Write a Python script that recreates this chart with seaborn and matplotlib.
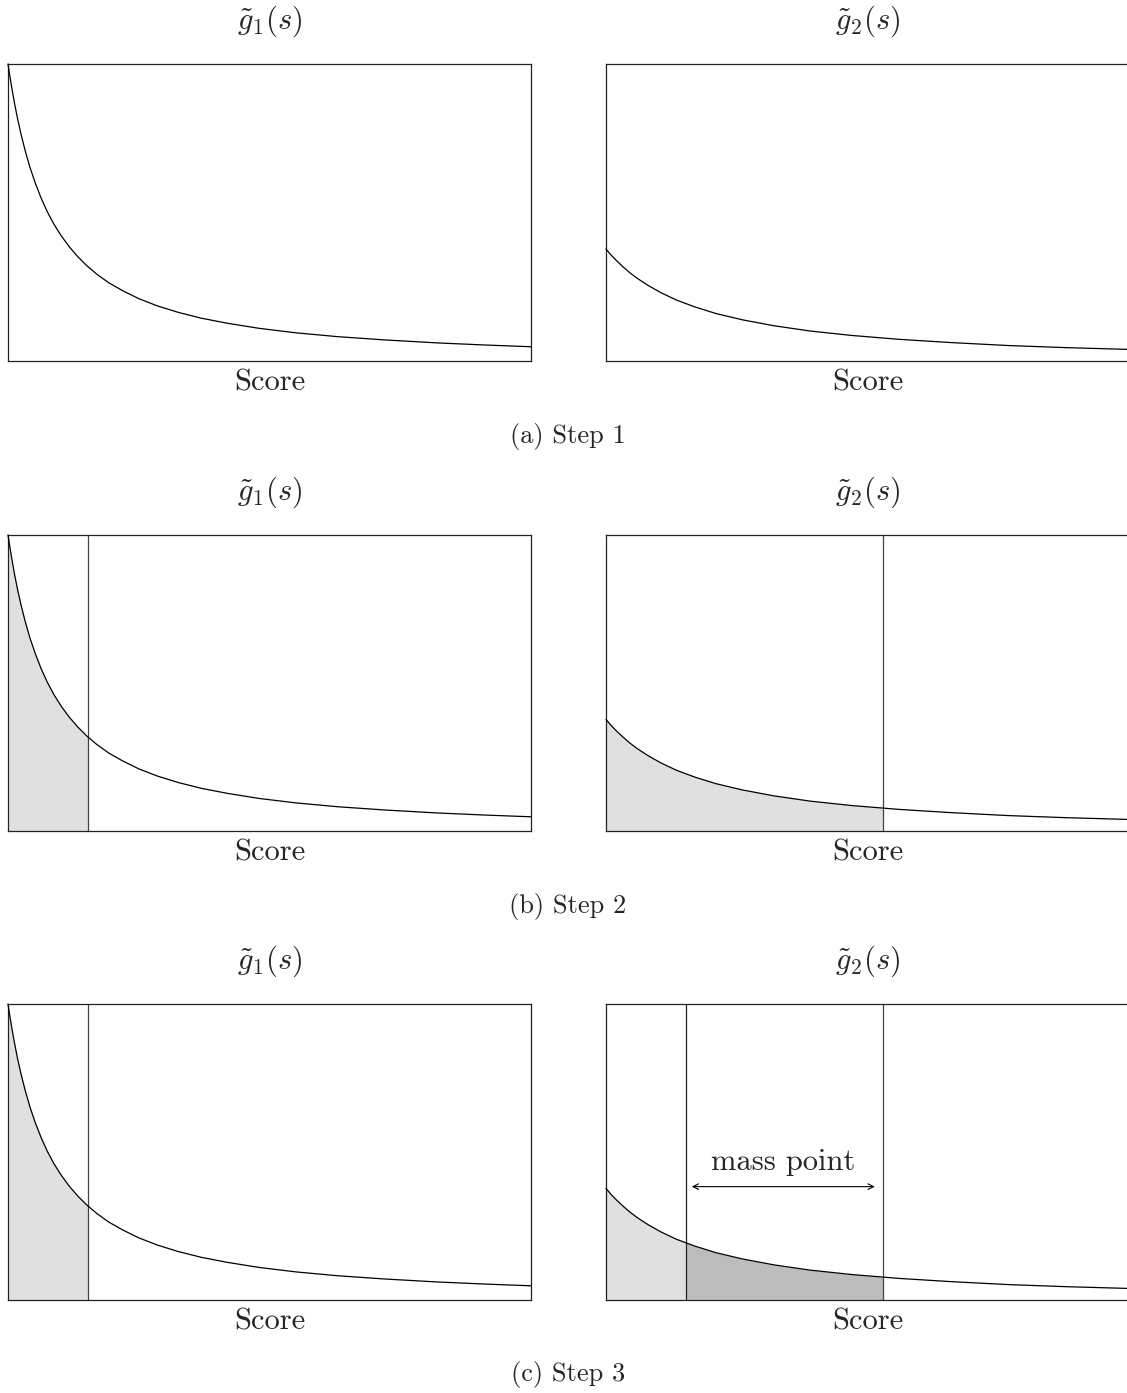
import numpy as np
import pandas as pd
import seaborn as sns
import matplotlib.pyplot as plt
from matplotlib.patches import Rectangle

# Curve values (score scaled 0..100, density scaled 0..1)
score_g1 = [0, 0.3, 0.7, 1.2, 1.8, 2.5, 3.3, 4.2, 5.2, 6.3, 7.5, 8.8, 10.2, 11.7, 13.3,
            15, 17, 19.3, 22, 25, 28.5, 32.5, 37, 42, 48, 55, 63, 72, 82, 91, 100]
dens_g1 = [1.0, 0.965, 0.922, 0.872, 0.818, 0.763, 0.707, 0.652, 0.600, 0.550, 0.503,
           0.460, 0.421, 0.385, 0.352, 0.322, 0.292, 0.263, 0.236, 0.210, 0.186, 0.164,
           0.144, 0.127, 0.110, 0.095, 0.082, 0.071, 0.061, 0.054, 0.048]

score_g2 = [0, 1, 2, 3.2, 4.5, 6, 8, 10.5, 13.5, 17, 21, 26, 32, 39, 47, 56, 66, 77, 88, 100]
dens_g2 = [0.377, 0.356, 0.338, 0.318, 0.298, 0.278, 0.255, 0.230, 0.205, 0.182, 0.160,
           0.139, 0.119, 0.101, 0.086, 0.073, 0.062, 0.052, 0.045, 0.039]

# thresholds (score units)
thr_g1 = 15.3
thr_g2_low = 15.3
thr_g2_high = 52.9
mass_arrow = [16.4, 51.4]

panel_titles = [r"$\tilde{g}_1(s)$", r"$\tilde{g}_2(s)$"]
xlabel = "Score"
captions = ["(a) Step 1", "(b) Step 2", "(c) Step 3"]
mass_label = "mass point"

df1 = pd.DataFrame({"score": score_g1, "density": dens_g1})
df2 = pd.DataFrame({"score": score_g2, "density": dens_g2})

sns.set_style("white")
plt.rcParams["mathtext.fontset"] = "cm"
plt.rcParams["axes.formatter.use_mathtext"] = True
serif = "cmr10"

W, H = 1127, 1393
fig = plt.figure(figsize=(W / 100, H / 100), dpi=100)

light = "#e0e0e0"
dark = "#bdbdbd"
frame_col = "#222222"

# pixel layout of the panels: (top, bottom)
rows = [(64, 361), (535, 831), (1004, 1300)]
cols = [8, 606]
pw = 523


def shade(ax, df, a, b, color):
    poly = ax.fill_between(df["score"], 0, df["density"], color=color, lw=0, zorder=1)
    clip = Rectangle((a, 0), b - a, 1, transform=ax.transData)
    poly.set_clip_path(clip)


axes = {}
for r, (top, bot) in enumerate(rows):
    for c, left in enumerate(cols):
        ax = fig.add_axes([left / W, 1 - bot / H, pw / W, (bot - top) / H])
        df = df1 if c == 0 else df2
        sns.lineplot(data=df, x="score", y="density", ax=ax, color="black",
                     lw=0.9, zorder=3, clip_on=False)
        ax.set_xlim(0, 100)
        ax.set_ylim(0, 1)
        ax.set_xticks([])
        ax.set_yticks([])
        ax.set_xlabel("")
        ax.set_ylabel("")
        for sp in ax.spines.values():
            sp.set_visible(True)
            sp.set_color(frame_col)
            sp.set_linewidth(0.9)
        ax.text(0.5, 1 + 43 / (bot - top), panel_titles[c], transform=ax.transAxes,
                ha="center", va="center", fontsize=22)
        ax.text(0.5, -22 / (bot - top), xlabel, transform=ax.transAxes,
                ha="center", va="center", fontsize=22, family=serif)
        axes[(r, c)] = ax
    fig.text(568 / W, 1 - (bot + 75) / H, captions[r], ha="center", va="center",
             fontsize=19, family=serif)

# Step 2
ax = axes[(1, 0)]
shade(ax, df1, 0, thr_g1, light)
ax.axvline(thr_g1, color="#444444", lw=0.9, zorder=2)
ax = axes[(1, 1)]
shade(ax, df2, 0, thr_g2_high, light)
ax.axvline(thr_g2_high, color="#444444", lw=0.9, zorder=2)

# Step 3
ax = axes[(2, 0)]
shade(ax, df1, 0, thr_g1, light)
ax.axvline(thr_g1, color="#444444", lw=0.9, zorder=2)
ax = axes[(2, 1)]
shade(ax, df2, 0, thr_g2_low, light)
shade(ax, df2, thr_g2_low, thr_g2_high, dark)
ax.axvline(thr_g2_low, color="#222222", lw=0.9, zorder=2)
ax.axvline(thr_g2_high, color="#444444", lw=0.9, zorder=2)
ax.annotate("", xy=(mass_arrow[0], 0.383), xytext=(mass_arrow[1], 0.383),
            arrowprops=dict(arrowstyle="<->", lw=0.8, color="black",
                            shrinkA=0, shrinkB=0, mutation_scale=10))
ax.text(sum(mass_arrow) / 2 - 0.1, 0.466, mass_label, ha="center", va="center",
        fontsize=22, family=serif)

fig.savefig("out.png", dpi=100)
